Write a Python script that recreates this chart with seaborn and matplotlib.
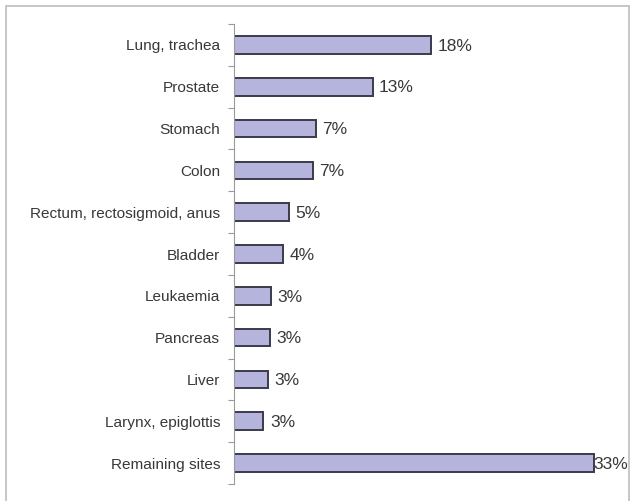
import matplotlib
matplotlib.use("Agg")
import matplotlib.pyplot as plt
from matplotlib.patches import Rectangle
import seaborn as sns
import pandas as pd

# Data
sites = ["Lung, trachea", "Prostate", "Stomach", "Colon",
         "Rectum, rectosigmoid, anus", "Bladder", "Leukaemia",
         "Pancreas", "Liver", "Larynx, epiglottis", "Remaining sites"]
shares = [18.1, 12.7, 7.5, 7.2, 5.0, 4.5, 3.4, 3.3, 3.1, 2.7, 33.0]
share_labels = ["18%", "13%", "7%", "7%", "5%", "4%", "3%", "3%", "3%", "3%", "33%"]

df = pd.DataFrame({"site": sites, "share": shares})

sns.set_style("white")
plt.rcParams["font.family"] = ["Liberation Sans", "DejaVu Sans"]

fig = plt.figure(figsize=(6.31, 5.01), dpi=100)
ax = fig.add_axes([234 / 631, 1 - 484 / 501, 392.8 / 631, 460 / 501])

sns.barplot(data=df, x="share", y="site", orient="h", color="#b4b4dc",
            saturation=1, edgecolor="#3a3a4a", linewidth=1.4, width=0.42, ax=ax)

ax.set_xlim(0, 36)
ax.set_ylim(len(sites) - 0.5, -0.5)
ax.set_xlabel("")
ax.set_ylabel("")
ax.set_xticks([])

# category labels without tick marks, small ticks between categories
ax.tick_params(axis="y", which="major", left=False, length=0, pad=10,
               labelsize=11.1, labelcolor="#383838")
ax.set_yticks([i - 0.5 for i in range(len(sites) + 1)], minor=True)
ax.tick_params(axis="y", which="minor", left=True, length=4, width=0.8,
               color="#9a9a9a", direction="out")

for side in ["top", "right", "bottom"]:
    ax.spines[side].set_visible(False)
ax.spines["left"].set_color("#9a9a9a")
ax.spines["left"].set_linewidth(0.8)

for i, (v, lab) in enumerate(zip(shares, share_labels)):
    ax.text(min(v + 0.6, 32.9), i + 0.03, lab, va="center", ha="left",
            fontsize=12.5, color="#383838")

# light frame around the chart area
fig.patches.append(Rectangle((6 / 631, -0.02), 623 / 631, 1.02 - 6 / 501,
                             transform=fig.transFigure, fill=False,
                             edgecolor="#bdbdbd", linewidth=1.2))

fig.savefig("out.png", dpi=100)
